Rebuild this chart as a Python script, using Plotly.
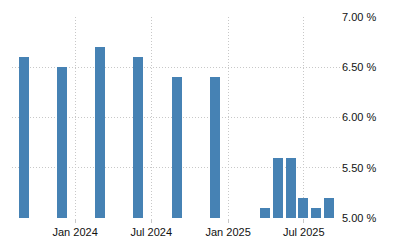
import plotly.graph_objects as go

dates = ["2023-08-31", "2023-11-30", "2024-02-29", "2024-05-31", "2024-08-31",
         "2024-11-30", "2025-03-31", "2025-04-30", "2025-05-31", "2025-06-30",
         "2025-07-31", "2025-08-31"]
values = [6.60, 6.50, 6.70, 6.60, 6.40, 6.40, 5.10, 5.60, 5.60, 5.20, 5.10, 5.20]
tick_dates = ["2024-01-01", "2024-07-01", "2025-01-01", "2025-07-01"]
tick_labels = ["Jan 2024", "Jul 2024", "Jan 2025", "Jul 2025"]
y_ticks = [5.0, 5.5, 6.0, 6.5, 7.0]
y_labels = ["5.00 %", "5.50 %", "6.00 %", "6.50 %", "7.00 %"]

bar_width_ms = 24 * 86400000

fig = go.Figure()
fig.add_trace(go.Bar(
    x=dates, y=values, width=[bar_width_ms] * len(dates),
    marker=dict(color="#4682B4", line=dict(width=0)),
))

fig.update_layout(
    width=400, height=250,
    margin=dict(l=12, r=59, t=17, b=32),
    paper_bgcolor="white", plot_bgcolor="white",
    showlegend=False,
    font=dict(family="Liberation Sans, Arial, sans-serif", size=11, color="#111"),
    bargap=0,
)
fig.update_xaxes(
    type="date",
    range=["2023-08-03", "2025-09-28"],
    tickvals=tick_dates, ticktext=tick_labels,
    showgrid=True, gridcolor="#c8c8c8", griddash="1px,2px", gridwidth=1,
    ticks="outside", ticklen=4, tickcolor="#c8c8c8",
    showline=False, zeroline=False,
    tickfont=dict(size=11, color="#111"),
)
fig.update_yaxes(
    range=[5.0, 7.0], side="right",
    tickvals=y_ticks, ticktext=y_labels,
    showgrid=True, gridcolor="#c8c8c8", griddash="1px,2px", gridwidth=1,
    ticks="", showline=False, zeroline=False,
    tickfont=dict(size=11, color="#111"),
)

fig.write_html("out.html")
